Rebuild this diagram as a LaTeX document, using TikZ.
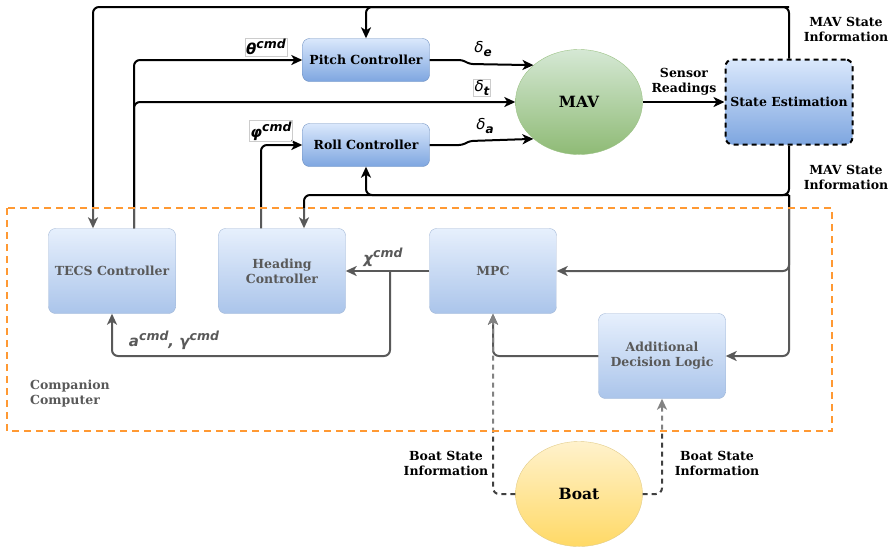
\documentclass[tikz,border=0pt]{standalone}
\usepackage{fontspec}
\setmainfont{DejaVu Serif}
\newfontfamily\symfont{DejaVu Sans}
\usetikzlibrary{shapes.geometric,arrows.meta}
\definecolor{boxtop}{HTML}{DAE8FC}
\definecolor{boxbot}{HTML}{7EA6E0}
\definecolor{boxline}{HTML}{6C8EBF}
\definecolor{mavtop}{HTML}{D5E8D4}
\definecolor{mavbot}{HTML}{82B366}
\definecolor{boattop}{HTML}{FFF2CC}
\definecolor{boatbot}{HTML}{FFD966}
\definecolor{boatline}{HTML}{D6B656}
\definecolor{ccorange}{HTML}{FF9933}
\newcommand{\boxfont}{\fontsize{12.5}{15}\selectfont\bfseries}
\newcommand{\sigfont}{\fontsize{15}{17}\selectfont\symfont\bfseries\itshape}
\newcommand{\sups}[1]{\raisebox{0.42em}{\fontsize{12.5}{13}\selectfont #1}}
\newcommand{\subs}[1]{\raisebox{-0.25em}{\fontsize{12}{13}\selectfont\bfseries #1}}

\begin{document}
\begin{tikzpicture}[x=1pt,y=-1pt,
  ctrl/.style={draw=boxline,rounded corners=7pt,top color=boxtop,bottom color=boxbot,
    minimum width=127pt,minimum height=43pt,align=center,font=\boxfont,inner sep=1pt},
  bigctrl/.style={ctrl,minimum height=85pt},
  blob/.style={ellipse,minimum width=127pt,minimum height=105pt,font=\fontsize{15.5}{18}\selectfont\bfseries},
  sig/.style={line width=2pt,rounded corners=6pt,-{Stealth[length=11pt,width=10pt,inset=3pt]}},
  bsig/.style={sig,black!75,dash pattern=on 5pt off 4pt},
  txt/.style={align=center,font=\boxfont,inner sep=0pt},
  lbl/.style={font=\sigfont,inner sep=1pt},
  lblbox/.style={lbl,draw=black!20,line width=0.4pt}]
  \useasboundingbox (0,0) rectangle (892,550);

  % blocks ---------------------------------------------------------------------
  \node[ctrl] (pitch) at (366,60)  {Pitch Controller};
  \node[ctrl] (roll)  at (366,145) {Roll Controller};
  \node[blob,draw=mavbot!80,top color=mavtop,bottom color=mavbot!90] (mav) at (579,102) {MAV};
  \node[bigctrl,draw=black,line width=2pt,dash pattern=on 5pt off 4pt] (se) at (789,102) {State Estimation};

  \node[bigctrl] (tecs) at (112,271) {TECS Controller};
  \node[bigctrl] (head) at (282,271) {Heading\\Controller};
  \node[bigctrl] (mpc)  at (493,271) {MPC};
  \node[bigctrl] (adl)  at (662,356) {Additional\\Decision Logic};

  \node[blob,draw=boatline!70,top color=boattop,bottom color=boatbot] (boat) at (579,494) {Boat};

  % state feedback ---------------------------------------------------------------
  \coordinate (topbus) at (789,7);
  \coordinate (lowbus) at (789,195);
  \draw[sig] (se.north) -- (topbus) -| ([xshift=-19pt]tecs.north);
  \draw[sig] (topbus) -| (pitch.north);
  \draw[sig] (se.south) -- (lowbus) -| (roll.south);
  \draw[sig] (lowbus) -| ([xshift=22pt]head.north);
  \draw[sig] (lowbus) |- (mpc.east);
  \draw[sig] (lowbus) |- (adl.east);

  % commands -------------------------------------------------------------------
  \draw[sig] ([xshift=22pt]tecs.north) |- (pitch.west);
  \draw[sig] ([xshift=22pt]tecs.north) |- (mav.west);
  \draw[sig] ([xshift=-21pt]head.north) |- (roll.west);
  \node[lblbox] (thetalbl) at (266,47) {θ\sups{cmd}};
  \node[lblbox] (philbl)   at (271,131) {φ\sups{cmd}};

  % actuator signals -----------------------------------------------------------
  \draw[sig,rounded corners=3pt] (pitch.east) -- (462,60) -- (470,64) -- (mav.141);
  \draw[sig,rounded corners=3pt] (roll.east) -- (462,145) -- (470,141) -- (mav.219);
  \node[lbl] (delel) at (483,49)  {\mdseries δ\subs{e}};
  \node[lblbox] (delth) at (482,88) {\mdseries δ\subs{t}};
  \node[lbl] (delai) at (485,126) {\mdseries δ\subs{a}};

  \draw[sig] (mav.east) -- (se.west);
  \node[txt] (sensor) at (684,82) {Sensor\\Readings};
  \node[txt] (mavinfo1) at (846,29)  {MAV State\\Information};
  \node[txt] (mavinfo2) at (846,177) {MAV State\\Information};

  % companion computer ---------------------------------------------------------
  \coordinate (chisplit) at (390,271);
  \draw[sig] (mpc.west) -- (head.east);
  \draw[sig] (chisplit) -- (390,356) -| (tecs.south);
  \draw[sig] (adl.west) -| (mpc.south);
  \node[lbl] (chilbl) at (383,257) {χ\sups{cmd}};
  \node[lbl] (gamlbl) at (174,340) {a\sups{cmd}, γ\sups{cmd}};
  \node[txt,align=left,anchor=west] (cclbl) at (30,394) {Companion\\Computer};

  % boat information -----------------------------------------------------------
  \draw[bsig] (boat.west) -| (mpc.south);
  \draw[bsig] (boat.east) -| (adl.south);
  \node[txt] (boatinfo1) at (446,463) {Boat State\\Information};
  \node[txt] (boatinfo2) at (717,463) {Boat State\\Information};

  % companion group fades what it holds
  \fill[white,fill opacity=0.35] (7,208) rectangle (832,431);
  \draw[ccorange,line width=1.5pt,dash pattern=on 7pt off 5pt] (7,208) rectangle (832,431);
\end{tikzpicture}
\end{document}
